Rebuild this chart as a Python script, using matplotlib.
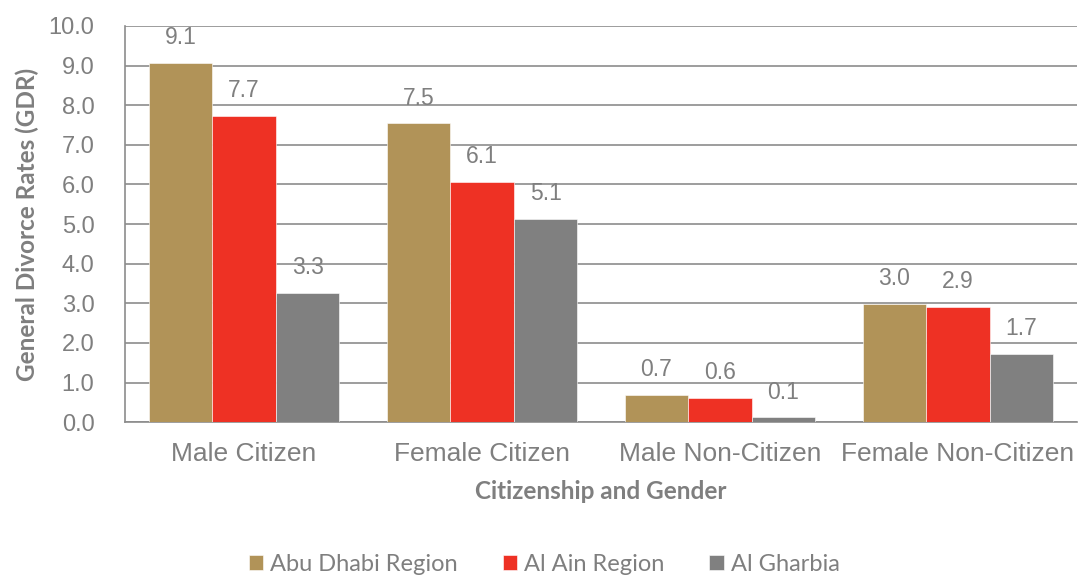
import numpy as np
import matplotlib.pyplot as plt

categories = ["Male Citizen", "Female Citizen", "Male Non-Citizen", "Female Non-Citizen"]
series_names = ["Abu Dhabi Region", "Al Ain Region", "Al Gharbia"]
abu_dhabi = [9.07, 7.54, 0.68, 2.98]
al_ain = [7.73, 6.06, 0.62, 2.91]
al_gharbia = [3.26, 5.14, 0.12, 1.72]
colors = ["#B19358", "#EE3124", "#808080"]
yticks = [0, 1, 2, 3, 4, 5, 6, 7, 8, 9, 10]

TXT = "#7F7F7F"
plt.rcParams["font.family"] = ["Liberation Sans", "DejaVu Sans"]

fig = plt.figure(figsize=(10.78, 5.76), dpi=100)
ax = fig.add_axes([0.116, 0.267, 0.883, 0.688])

x = np.arange(len(categories))
w = 0.267
for i, (vals, name, c) in enumerate(zip([abu_dhabi, al_ain, al_gharbia], series_names, colors)):
    bars = ax.bar(x + (i - 1) * w, vals, w, color=c, label=name,
                  edgecolor="white", linewidth=0.4, zorder=3)
    for b, v in zip(bars, vals):
        ax.annotate(f"{v:.1f}", (b.get_x() + b.get_width() / 2, v),
                    xytext=(0, 10), textcoords="offset points",
                    ha="center", va="bottom", fontsize=16.5, color=TXT)

ax.set_xlim(-0.5, len(categories) - 0.5)
ax.set_ylim(0, 10)
ax.set_yticks(yticks)
ax.set_yticklabels([f"{t:.1f}" for t in yticks])
ax.set_xticks(x)
ax.set_xticklabels(categories)
ax.tick_params(axis="y", length=0, pad=22, labelsize=17, labelcolor=TXT)
ax.tick_params(axis="x", length=0, pad=14, labelsize=19, labelcolor=TXT)
ax.grid(axis="y", color="#8C8C8C", linewidth=1.2, zorder=0)
for s in ["top", "right"]:
    ax.spines[s].set_visible(False)
ax.spines["left"].set_color("#8C8C8C")
ax.spines["bottom"].set_color("#8C8C8C")
ax.spines["left"].set_linewidth(1.2)
ax.spines["bottom"].set_linewidth(1.2)

ax.set_xlabel("Citizenship and Gender", fontsize=17.5, fontweight="bold",
              color=TXT, family="Lato", labelpad=10)
ax.set_ylabel("General Divorce Rates (GDR)", fontsize=17.5, fontweight="bold",
              color=TXT, family="Lato", labelpad=7)

leg = fig.legend(loc="center", bbox_to_anchor=(0.505, 0.02), ncol=3, frameon=False,
                 handlelength=0.6, handleheight=0.6, handletextpad=0.3,
                 columnspacing=1.9, prop={"family": "Lato", "size": 17})
for t in leg.get_texts():
    t.set_color(TXT)

fig.savefig("out.png", dpi=100)
